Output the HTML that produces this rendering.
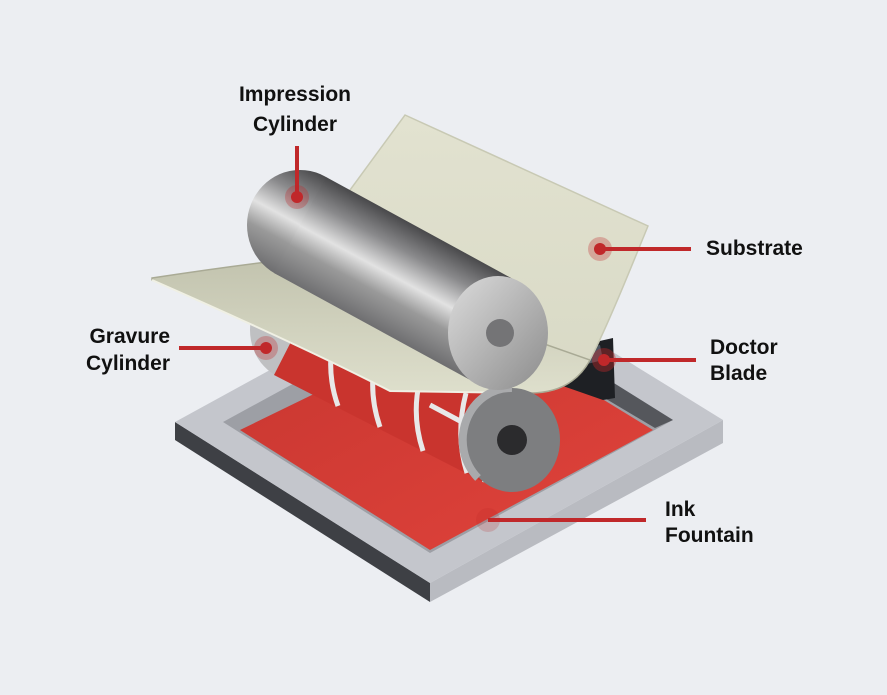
<!DOCTYPE html>
<html><head><meta charset="utf-8"><style>
html,body{margin:0;padding:0;background:#eceef2;}
svg{display:block}
text{font-family:"Liberation Sans",sans-serif;font-weight:bold;font-size:21px;fill:#111;}
</style></head><body>
<svg width="887" height="695" viewBox="0 0 887 695" xmlns="http://www.w3.org/2000/svg">
<defs>
<linearGradient id="imp" gradientUnits="userSpaceOnUse" x1="326" y1="177" x2="274" y2="273">
<stop offset="0" stop-color="#4a4a4c"/><stop offset="0.25" stop-color="#8a8a8c"/><stop offset="0.5" stop-color="#e2e2e2"/><stop offset="0.7" stop-color="#9a9a9a"/><stop offset="1" stop-color="#6e6e70"/>
</linearGradient>
<linearGradient id="imp2" gradientUnits="userSpaceOnUse" x1="524" y1="285" x2="472" y2="381">
<stop offset="0" stop-color="#4a4a4c"/><stop offset="0.25" stop-color="#8a8a8c"/><stop offset="0.5" stop-color="#e2e2e2"/><stop offset="0.7" stop-color="#9a9a9a"/><stop offset="1" stop-color="#6e6e70"/>
</linearGradient>
<linearGradient id="cap" x1="0" y1="0" x2="1" y2="1">
<stop offset="0" stop-color="#dcdcdc"/><stop offset="1" stop-color="#8c8c8c"/>
</linearGradient>
<linearGradient id="sheet" x1="0" y1="0" x2="0" y2="1">
<stop offset="0" stop-color="#e2e2d0"/><stop offset="1" stop-color="#d8d9c5"/>
</linearGradient>
<linearGradient id="flap" x1="0" y1="0" x2="0" y2="1">
<stop offset="0" stop-color="#c2c3ae"/><stop offset="1" stop-color="#dedfcc"/>
</linearGradient>
<linearGradient id="red" x1="0" y1="0" x2="1" y2="1">
<stop offset="0" stop-color="#c73630"/><stop offset="1" stop-color="#e0433b"/>
</linearGradient>
</defs>
<!-- tray -->
<polygon points="175,422 430,583 430,602 175,440" fill="#3e4045"/>
<polygon points="430,583 723,420 723,443 430,602" fill="#b9bbc1"/>
<polygon points="175,422 467,262 723,420 430,583" fill="#c4c6cc"/>
<polygon points="223,422 465,290 673,420 430,553" fill="#9d9fa5"/>
<polygon points="465,290 673,420 655,428 470,318" fill="#55575c"/>
<polygon points="240,430 470,318 653,430 430,550" fill="url(#red)"/>
<!-- gravure cylinder -->
<ellipse cx="297" cy="330" rx="47" ry="51" fill="#bfc0c2"/>
<polygon points="320,285 535,395 489,485 274,375" fill="#c9342e"/>
<g stroke="#e8e8e8" stroke-width="5" fill="none">
<path d="M335,330 Q325,370 338,406"/>
<path d="M377,350 Q367,390 380,427"/>
<path d="M422,372 Q410,412 423,451"/>
<path d="M466,393 Q455,435 467,473"/>
<path d="M430,405 L505,445"/>
</g>
<polygon points="490,384 520,390 520,488 482,482" fill="#c8c8ca"/>
<!-- doctor blade -->
<polygon points="560,350 613,338 615,398 603,400 560,385" fill="#1e2024"/>
<polygon points="555,352 600,345 603,360 555,372" fill="#4e5560"/>
<!-- upper substrate -->
<path d="M405,115 L648,226 C630,270 610,320 592,356 C575,388 550,395 520,392 L380,300 L350,190 Z" fill="url(#sheet)" stroke="#c8c9b4" stroke-width="1.5"/>
<!-- lower flap -->
<path d="M152,278 Q230,266 300,258 L590,360 Q572,393 530,393 L390,391 Q300,345 152,280 Z" fill="url(#flap)" stroke="#a9aa95" stroke-width="1.5"/>
<path d="M152,280 Q300,345 390,391 L530,393" fill="none" stroke="#f0f0e4" stroke-width="2"/>
<!-- gravure cap -->
<ellipse cx="512" cy="440" rx="48" ry="52" fill="#7d7e80"/>
<path d="M512,388 A48,52 0 0,0 478,478" fill="none" stroke="#a9aaac" stroke-width="8"/>
<circle cx="512" cy="440" r="15" fill="#2b2b2d"/>
<!-- impression cylinder -->
<ellipse cx="300" cy="225" rx="53" ry="55" fill="url(#imp)"/>
<polygon points="326,177 524,285 472,381 274,273" fill="url(#imp2)"/>
<polygon points="326,177 524,285 472,381 274,273" fill="url(#imp)" opacity="0"/>
<ellipse cx="498" cy="333" rx="50" ry="57" fill="url(#cap)"/>
<circle cx="500" cy="333" r="14" fill="#747476"/>
<!-- connectors -->
<g stroke="#c0282a" stroke-width="4">
<line x1="297" y1="146" x2="297" y2="197"/>
<line x1="600" y1="249" x2="691" y2="249"/>
<line x1="179" y1="348" x2="266" y2="348"/>
<line x1="604" y1="360" x2="696" y2="360"/>
<line x1="488" y1="520" x2="646" y2="520"/>
</g>
<g fill="#c0282a">
<circle cx="297" cy="197" r="12" opacity="0.3"/><circle cx="297" cy="197" r="6"/>
<circle cx="600" cy="249" r="12" opacity="0.3"/><circle cx="600" cy="249" r="6"/>
<circle cx="266" cy="348" r="12" opacity="0.3"/><circle cx="266" cy="348" r="6"/>
<circle cx="604" cy="360" r="12" opacity="0.4"/><circle cx="604" cy="360" r="6"/>
<circle cx="488" cy="520" r="12" opacity="0.2"/>
</g>
<!-- labels -->
<text x="295" y="101" text-anchor="middle">Impression</text>
<text x="295" y="131" text-anchor="middle">Cylinder</text>
<text x="706" y="255">Substrate</text>
<text x="170" y="343" text-anchor="end">Gravure</text>
<text x="170" y="370" text-anchor="end">Cylinder</text>
<text x="710" y="354">Doctor</text>
<text x="710" y="380">Blade</text>
<text x="665" y="516">Ink</text>
<text x="665" y="542">Fountain</text>
</svg>
</body></html>
